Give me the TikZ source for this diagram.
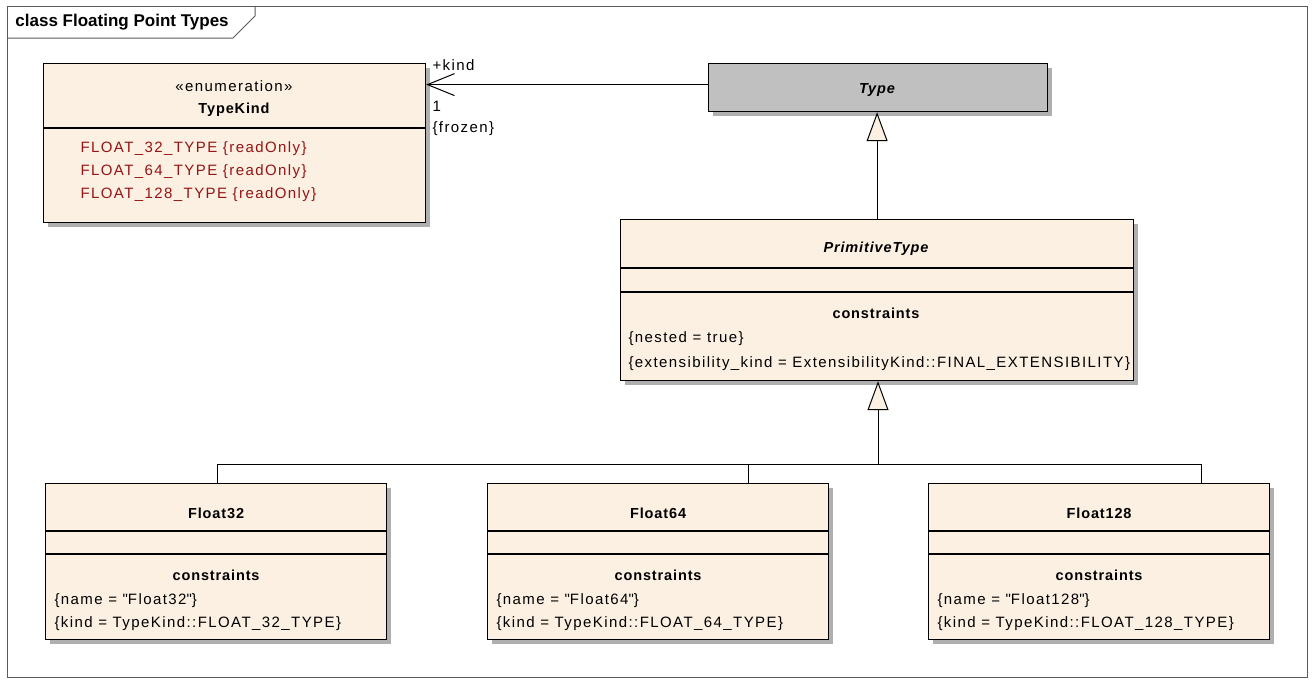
\documentclass[tikz,border=0pt]{standalone}
\usepackage{fontspec}
\setmainfont{Liberation Sans}[LetterSpace=9.5]
\newfontfamily\boldfam{Liberation Sans}[LetterSpace=6]
\newfontfamily\headfont{Liberation Sans}
\usetikzlibrary{arrows.meta,shadows,calc}

\definecolor{classfill}{RGB}{251,240,226}
\definecolor{typegray}{RGB}{192,192,192}
\definecolor{literalred}{RGB}{150,20,20}
\definecolor{shadowgray}{RGB}{175,175,175}
\definecolor{framegray}{RGB}{90,90,90}

\begin{document}
\begin{tikzpicture}[x=1pt,y=-1pt,line width=1pt,font=\fontsize{15}{17}\selectfont]
        \tikzstyle{classbox}=[draw=black,line width=1.2pt,fill=classfill,anchor=north west,inner sep=0pt,
            general shadow={fill=shadowgray,shadow xshift=4pt,shadow yshift=-4pt}]
        \tikzstyle{cname}=[anchor=base,inner sep=0pt,font=\boldfam\fontsize{14.5}{17}\selectfont\bfseries]
        \tikzstyle{aname}=[cname,font=\boldfam\fontsize{14.5}{17}\selectfont\bfseries\itshape]
        \tikzstyle{line}=[anchor=base west,inner sep=0pt]
        \tikzstyle{literal}=[line,text=literalred]
        \tikzstyle{gen}=[-{Triangle[length=29pt,width=21pt,fill=classfill]}]
        \tikzstyle{assoc}=[-{Straight Barb[length=27pt,width=22pt]}]

        \useasboundingbox (0,0) rectangle (1314,681);

        % Draw the diagram frame and its tab
        \draw[draw=framegray] (7,6) rectangle (1307,677);
        \draw[draw=framegray] (7,38) -- (233,38) -- (255,16) -- (255,6);
        \node[anchor=base west,inner sep=0pt,font=\headfont\bfseries\fontsize{17}{19}\selectfont] (frame title) at (15,26) {class Floating Point Types};

        % Draw the enumeration
        \node[classbox,minimum width=382pt,minimum height=159pt] (kind) at (43,63) {};
        \draw[line width=1.2pt] (kind.west |- 0,128) -- (kind.east |- 0,128);
        \node[line,anchor=base] (kind stereo) at (234,91) {«enumeration»};
        \node[cname] (kind name) at (234,113) {TypeKind};
        \node[literal] (lit32) at (80,152) {FLOAT\_32\_TYPE \{readOnly\}};
        \node[literal] (lit64) at (80,175) {FLOAT\_64\_TYPE \{readOnly\}};
        \node[literal] (lit128) at (80,198) {FLOAT\_128\_TYPE \{readOnly\}};

        % Draw the abstract classes
        \node[classbox,fill=typegray,minimum width=339pt,minimum height=48pt] (type) at (708,63) {};
        \node[aname] (type name) at (877,93) {Type};

        \node[classbox,minimum width=513pt,minimum height=161pt] (prim) at (620,219) {};
        \draw[line width=1.2pt] (prim.west |- 0,268) -- (prim.east |- 0,268);
        \draw[line width=1.2pt] (prim.west |- 0,292) -- (prim.east |- 0,292);
        \node[aname] (prim name) at (876,252) {PrimitiveType};
        \node[cname] (prim cons) at (876,318) {constraints};
        \node[line] (prim nested) at (628,342) {\{nested = true\}};
        \node[line] (prim ext) at (628,367) {\{extensibility\_kind = ExtensibilityKind::FINAL\_EXTENSIBILITY\}};

        % Generalization of PrimitiveType
        \draw[gen] (prim.north) -- (prim.north |- type.south);

        % Association to the enumeration
        \coordinate (kind end) at ([yshift=3pt]type.west);
        \draw[assoc] (kind end) -- (kind end -| kind.east);
        \node[line] (role) at (432,70) {+kind};
        \node[line] (mult) at (432,111) {1};
        \node[line] (frozen) at (432,132) {\{frozen\}};

        % Draw the concrete float classes and connect them to the bus
        \coordinate (bus) at (878,464);
        \foreach \bits/\x/\drop in {32/45/172, 64/487/261, 128/928/273}
        {
            \node[classbox,minimum width=341pt,minimum height=156pt] (f\bits) at (\x,483) {};
            \draw[line width=1.2pt] (f\bits.west |- 0,531) -- (f\bits.east |- 0,531);
            \draw[line width=1.2pt] (f\bits.west |- 0,554) -- (f\bits.east |- 0,554);
            \node[cname] (f\bits name) at ($(f\bits.north)+(0,35)$) {Float\bits};
            \node[cname] (f\bits cons) at ($(f\bits.north)+(0,97)$) {constraints};
            \node[line] (f\bits n) at ($(f\bits.north west)+(9,121)$) {\{name = \textquotedbl Float\bits\textquotedbl\}};
            \node[line] (f\bits k) at ($(f\bits.north west)+(9,144)$) {\{kind = TypeKind::FLOAT\_\bits\_TYPE\}};
            \draw ($(f\bits.north west)+(\drop,0)$) |- (bus);
        }

        % Generalization of the float classes
        \draw[gen] (bus) -- (bus |- prim.south);
\end{tikzpicture}
\end{document}
